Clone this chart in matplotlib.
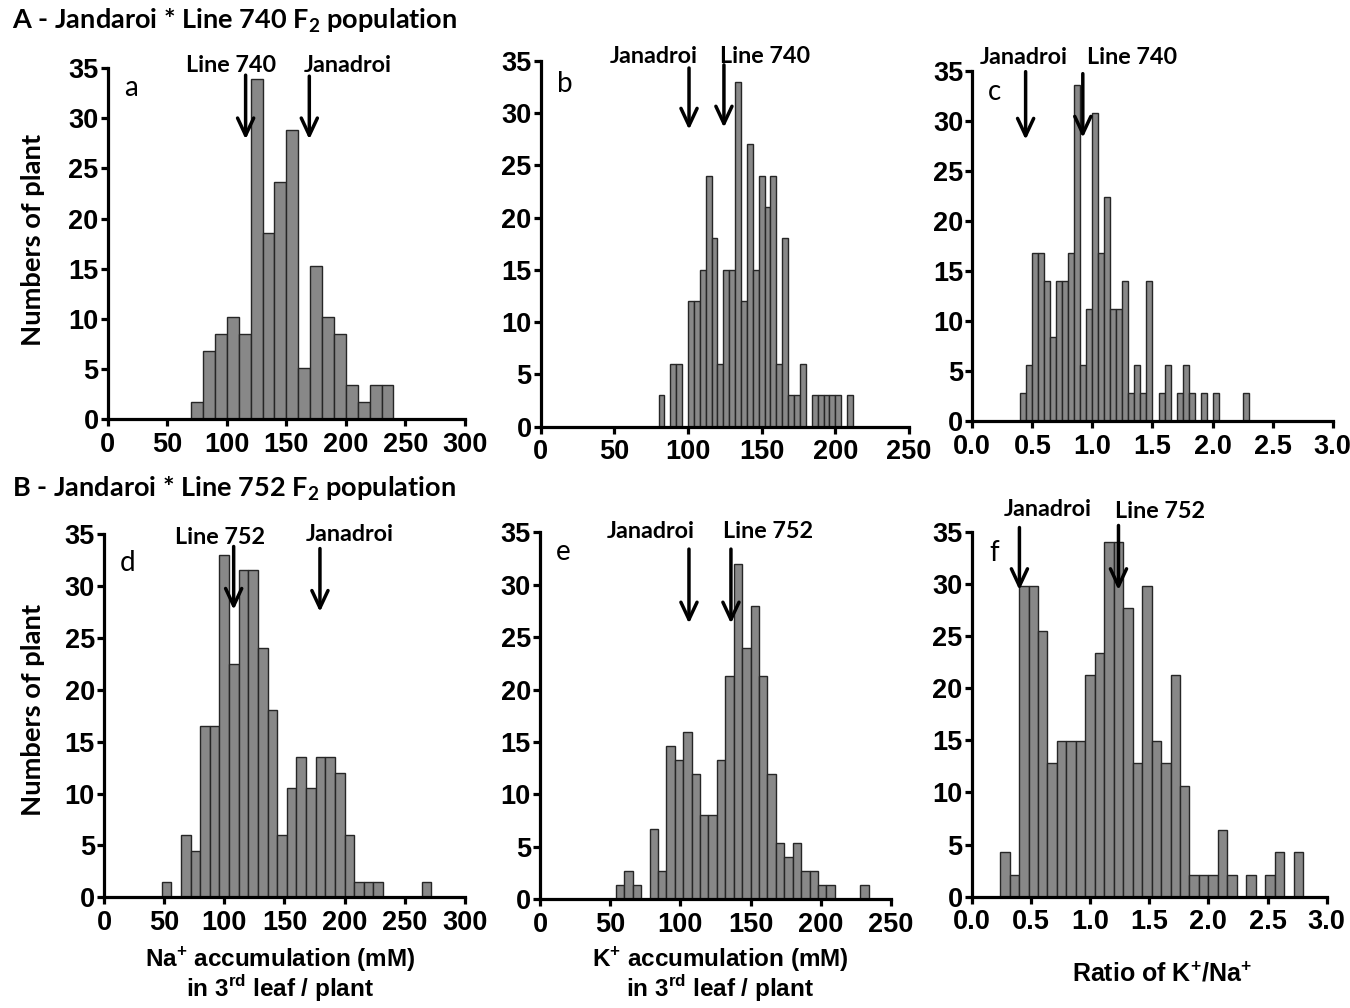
import numpy as np
import matplotlib
matplotlib.use('Agg')
import matplotlib.pyplot as plt
from matplotlib.ticker import FormatStrFormatter

# Na+ в 3-м листе, Jandaroi * Line 740 (шаг 10 мМ)
na_740_start, na_740_step = 70, 10
na_740 = [1.7, 6.8, 8.5, 10.2, 8.5, 33.9, 18.6, 23.7, 28.8, 5.1, 15.3, 10.2,
          8.5, 3.4, 1.7, 3.4, 3.4]

# K+ в 3-м листе, Jandaroi * Line 740 (шаг 4 мМ)
k_740_start, k_740_step = 80, 4
k_740 = [3, 0, 6, 6, 0, 12, 12, 15, 24, 18, 6, 15, 15, 33, 12, 27, 15, 24, 21,
         24, 6, 18, 3, 3, 6, 0, 3, 3, 3, 3, 3, 0, 3]

# K+/Na+, Jandaroi * Line 740 (шаг 0.05)
ratio_740_start, ratio_740_step = 0.40, 0.05
ratio_740 = [2.8, 5.6, 16.8, 16.8, 14, 8.4, 14, 14, 16.8, 33.6, 5.6, 11.2,
             30.8, 16.8, 22.4, 11.2, 11.2, 14, 2.8, 5.6, 2.8, 14, 0, 2.8, 5.6,
             0, 2.8, 5.6, 2.8, 0, 2.8, 0, 2.8, 0, 0, 0, 0, 2.8]

# Na+ в 3-м листе, Jandaroi * Line 752 (шаг 8 мМ)
na_752_start, na_752_step = 48, 8
na_752 = [1.5, 0, 6, 4.5, 16.5, 16.5, 33, 22.5, 31.5, 31.5, 24, 18, 6, 10.5,
          13.5, 10.5, 13.5, 13.5, 12, 6, 1.5, 1.5, 1.5, 0, 0, 0, 0, 1.5]

# K+ в 3-м листе, Jandaroi * Line 752 (шаг 6 мМ)
k_752_start, k_752_step = 54, 6
k_752 = [1.33, 2.67, 1.33, 0, 6.67, 2.67, 14.67, 13.33, 16, 12, 8, 8, 13.33,
         21.33, 32, 24, 28, 21.33, 12, 5.33, 4, 5.33, 2.67, 2.67, 1.33, 1.33,
         0, 0, 0, 1.33]

# K+/Na+, Jandaroi * Line 752 (шаг 0.08)
ratio_752_start, ratio_752_step = 0.24, 0.08
ratio_752 = [4.26, 2.13, 29.8, 29.8, 25.5, 12.8, 14.9, 14.9, 14.9, 21.3, 23.4,
             34.0, 34.0, 27.7, 12.8, 29.8, 14.9, 12.8, 21.3, 10.6, 2.13, 2.13,
             2.13, 6.4, 2.13, 0, 2.13, 0, 2.13, 4.26, 0, 4.26]

# средние значения родителей (стрелки)
parents_a = {'Line 740': 115.8, 'Janadroi': 169.3}
parents_b = {'Janadroi': 100.7, 'Line 740': 124.4}
parents_c = {'Janadroi': 0.444, 'Line 740': 0.92}
parents_d = {'Line 752': 107.8, 'Janadroi': 179.5}
parents_e = {'Janadroi': 106.1, 'Line 752': 136.0}
parents_f = {'Janadroi': 0.403, 'Line 752': 1.24}

plt.rcParams['font.family'] = ['Liberation Sans', 'DejaVu Sans']
plt.rcParams['font.weight'] = 'bold'
CAL = ['Lato', 'DejaVu Sans']

fig = plt.figure(figsize=(13.5, 10.08), dpi=100)


def panel(rect, start, step, counts, xmax, xstep, fmt):
    ax = fig.add_axes(rect)
    left = start + step * np.arange(len(counts))
    ax.bar(left, counts, width=step, align='edge', color='#888888',
           edgecolor='#262626', linewidth=1.0, zorder=2)
    ax.set_xlim(0, xmax)
    ax.set_ylim(0, 35)
    ax.set_xticks(np.arange(0, xmax + xstep / 2, xstep))
    ax.set_yticks(range(0, 36, 5))
    ax.xaxis.set_major_formatter(FormatStrFormatter(fmt))
    for s in ('top', 'right'):
        ax.spines[s].set_visible(False)
    for s in ('left', 'bottom'):
        ax.spines[s].set_linewidth(2.3)
        ax.spines[s].set_zorder(3)
    ax.tick_params(direction='out', length=5, width=2.3, labelsize=19.5)
    ax.tick_params(axis='x', pad=4)
    ax.tick_params(axis='y', pad=1.5)
    return ax


def arrow(ax, x, top, tip):
    ax.annotate('', xy=(x, tip), xytext=(x, top), annotation_clip=False,
                arrowprops=dict(arrowstyle='->,head_length=0.62,head_width=0.29',
                                lw=2.5, color='black', mutation_scale=20,
                                shrinkA=0, shrinkB=0))


def label(ax, x, y, s):
    ax.text(x, y, s, ha='center', va='baseline', fontsize=16.8,
            family=CAL, fontweight='bold', clip_on=False)


def letter(ax, x, y, s):
    ax.text(x, y, s, ha='left', va='baseline', fontsize=20,
            family=CAL, fontweight='normal')


# A - первая популяция
ax = panel([0.0798, 0.584, 0.2646, 0.3484], na_740_start, na_740_step, na_740, 300, 50, '%d')
letter(ax, 13.7, 32.2, 'a')
arrow(ax, parents_a['Line 740'], 34.3, 27.9)
arrow(ax, parents_a['Janadroi'], 34.2, 27.9)
label(ax, 103.5, 34.65, 'Line 740')
label(ax, 201.2, 34.65, 'Janadroi')

ax = panel([0.4005, 0.5767, 0.2728, 0.3631], k_740_start, k_740_step, k_740, 250, 50, '%d')
letter(ax, 11.3, 32.0, 'b')
arrow(ax, parents_b['Janadroi'], 34.3, 28.4)
arrow(ax, parents_b['Line 740'], 34.6, 28.6)
label(ax, 76.5, 34.75, 'Janadroi')
label(ax, 152.3, 34.75, 'Line 740')

ax = panel([0.7202, 0.5823, 0.2670, 0.3476], ratio_740_start, ratio_740_step, ratio_740, 3.0, 0.5, '%.1f')
letter(ax, 0.133, 32.1, 'c')
arrow(ax, parents_c['Janadroi'], 34.9, 28.1)
arrow(ax, parents_c['Line 740'], 34.7, 28.3)
label(ax, 0.425, 35.7, 'Janadroi')
label(ax, 1.327, 35.7, 'Line 740')

# B - вторая популяция
ax = panel([0.0770, 0.1098, 0.2674, 0.3604], na_752_start, na_752_step, na_752, 300, 50, '%d')
letter(ax, 13.3, 31.4, 'd')
arrow(ax, parents_d['Line 752'], 33.8, 27.7)
arrow(ax, parents_d['Janadroi'], 33.6, 27.5)
label(ax, 96.4, 34.0, 'Line 752')
label(ax, 204.4, 34.3, 'Janadroi')

ax = panel([0.4000, 0.1078, 0.2600, 0.3641], k_752_start, k_752_step, k_752, 250, 50, '%d')
letter(ax, 11.2, 32.4, 'e')
arrow(ax, parents_e['Janadroi'], 33.4, 26.3)
arrow(ax, parents_e['Line 752'], 33.4, 26.3)
label(ax, 78.8, 34.5, 'Janadroi')
label(ax, 162.6, 34.5, 'Line 752')

ax = panel([0.7198, 0.1104, 0.2630, 0.3621], ratio_752_start, ratio_752_step, ratio_752, 3.0, 0.5, '%.1f')
letter(ax, 0.149, 32.2, 'f')
arrow(ax, parents_f['Janadroi'], 35.4, 29.4)
arrow(ax, parents_f['Line 752'], 35.6, 29.4)
label(ax, 0.639, 36.5, 'Janadroi')
label(ax, 1.59, 36.3, 'Line 752')

# заголовки и подписи осей
fig.text(12 / 1350, 1 - 28.3 / 1008, r'A - Jandaroi * Line 740 F$_{\mathdefault{2}}$ population',
         family=CAL, fontsize=19.5, fontweight='bold', va='baseline')
fig.text(12 / 1350, 1 - 496.7 / 1008, r'B - Jandaroi * Line 752 F$_{\mathdefault{2}}$ population',
         family=CAL, fontsize=19.5, fontweight='bold', va='baseline')
for yc in (240, 710):
    fig.text(33 / 1350, 1 - yc / 1008, 'Numbers of plant', rotation=90,
             ha='center', va='center', family=CAL, fontsize=19.7, fontweight='bold')

fig.text(280 / 1350, 1 - 1004 / 1008,
         'Na$^{\\mathdefault{+}}$ accumulation (mM)\nin 3$^{\\mathdefault{rd}}$ leaf / plant',
         ha='center', va='bottom', fontsize=17.5, linespacing=0.93)
fig.text(720 / 1350, 1 - 1004 / 1008,
         'K$^{\\mathdefault{+}}$ accumulation (mM)\nin 3$^{\\mathdefault{rd}}$ leaf / plant',
         ha='center', va='bottom', fontsize=17.5, linespacing=0.93)
fig.text(1162 / 1350, 1 - 982 / 1008, r'Ratio of K$^{\mathdefault{+}}$/Na$^{\mathdefault{+}}$',
         ha='center', va='baseline', fontsize=18)

fig.savefig('out.png', dpi=100)
